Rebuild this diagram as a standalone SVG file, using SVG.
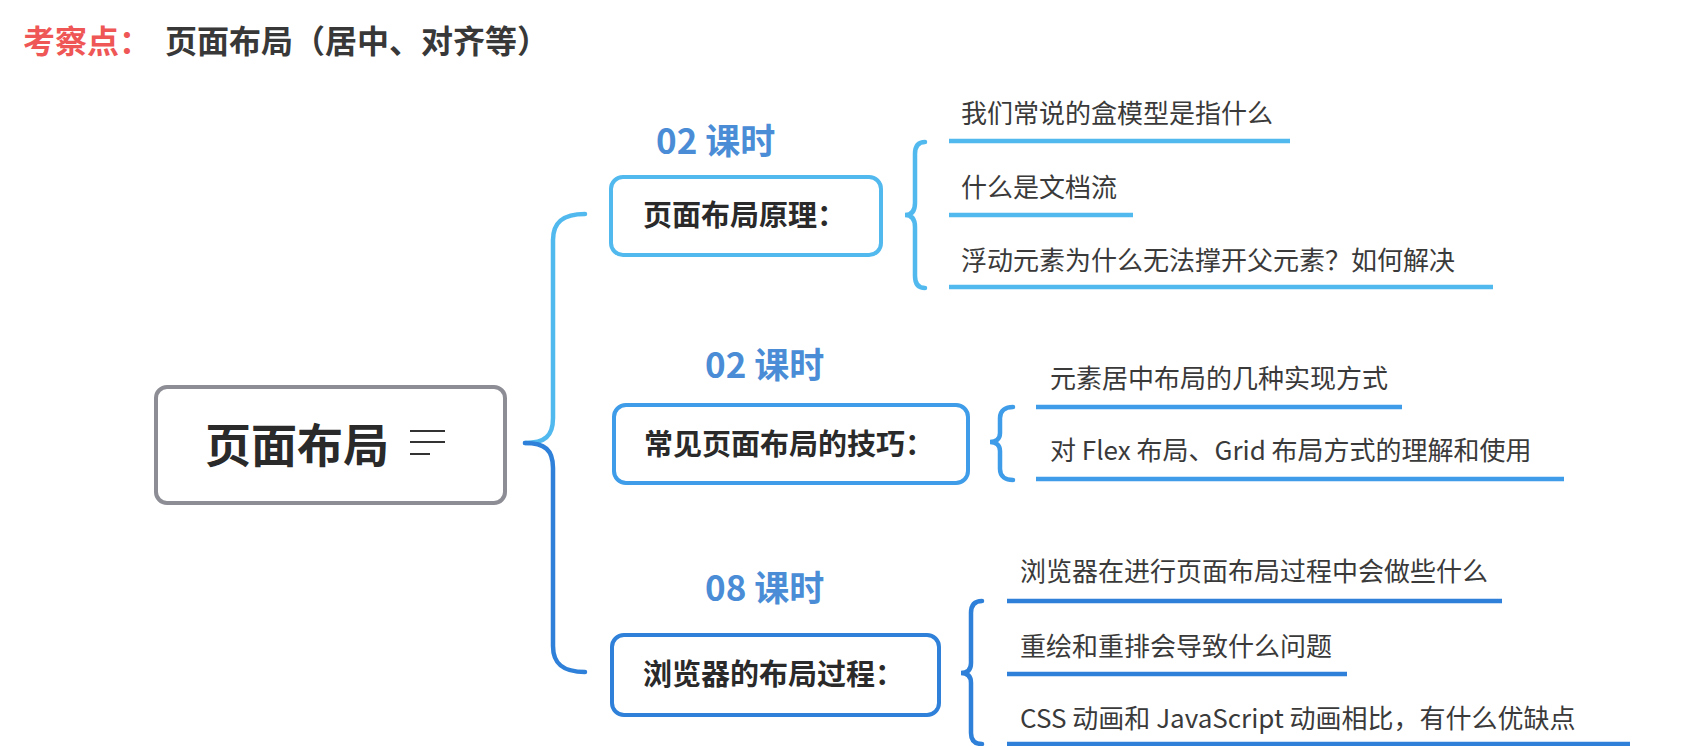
<svg xmlns="http://www.w3.org/2000/svg" width="1706" height="746" viewBox="0 0 1706 746">
  <style>
    text { font-family: "Noto Sans CJK SC", "Noto Sans", sans-serif; }
    .title-red { font-size: 32px; font-weight: bold; fill: #ef5656; }
    .title { font-size: 32px; font-weight: bold; fill: #383838; }
    .root-text { font-size: 46px; font-weight: bold; fill: #2a2a2a; }
    .box-text { font-size: 29px; font-weight: bold; fill: #2a2a2a; }
    .hours { font-size: 35px; font-weight: bold; fill: #4a8dd6; }
    .leaf { font-size: 26px; fill: #3a3a3a; }
    .box { fill: #ffffff; stroke-width: 4; }
    .c1 { stroke: #52b9ef; }
    .c2 { stroke: #3e9ce8; }
    .c3 { stroke: #2f80d9; }
    .conn { fill: none; stroke-width: 4.5; stroke-linecap: round; }
    .uline { fill: none; stroke-width: 4.5; }
    .icon { stroke: #333333; stroke-width: 2; }
  </style>
  <rect x="0" y="0" width="1706" height="746" fill="#ffffff"/>

  <g id="title">
    <text class="title-red" x="23" y="53">考察点：</text>
    <text class="title" x="165" y="53">页面布局（居中、对齐等）</text>
  </g>

  <g id="connectors">
    <path class="conn c1" d="M585,214 C563,214 553,222 553,240 L553,418 C553,436 545,443 525,443"/>
    <path class="conn c3" d="M525,443 C545,443 553,450 553,468 L553,646 C553,664 563,672 585,672"/>
    <path class="conn c1" d="M925,142 C918,142 915,146 915,154 L915,203 C915,211 912,215 905,215 C912,215 915,219 915,227 L915,276 C915,284 918,288 925,288"/>
    <path class="conn c2" d="M1013,407 C1006,407 1000,410 1000,418 L1000,433 C1000,439 996,442 990,442 C996,442 1000,445 1000,451 L1000,469 C1000,477 1006,480 1013,480"/>
    <path class="conn c3" d="M982,601 C975,601 971,605 971,613 L971,663 C971,670 967,673 961,673 C967,673 971,676 971,683 L971,733 C971,741 975,744 982,744"/>
  </g>

  <g id="root">
    <rect x="156" y="387" width="349" height="116" rx="11" fill="#ffffff" stroke="#8d8d95" stroke-width="4"/>
    <text class="root-text" x="205" y="462">页面布局</text>
    <line class="icon" x1="410" y1="431" x2="445" y2="431"/>
    <line class="icon" x1="410" y1="442" x2="445" y2="442"/>
    <line class="icon" x1="410" y1="454" x2="430" y2="454"/>
  </g>

  <g id="node-principle">
    <text class="hours" x="656" y="154">02 课时</text>
    <rect class="box c1" x="611" y="177" width="270" height="78" rx="12"/>
    <text class="box-text" x="643" y="226">页面布局原理：</text>
  </g>

  <g id="node-skills">
    <text class="hours" x="705" y="378">02 课时</text>
    <rect class="box c2" x="614" y="405" width="354" height="78" rx="12"/>
    <text class="box-text" x="644" y="455">常见页面布局的技巧：</text>
  </g>

  <g id="node-process">
    <text class="hours" x="705" y="601">08 课时</text>
    <rect class="box c3" x="612" y="635" width="327" height="80" rx="12"/>
    <text class="box-text" x="643" y="685">浏览器的布局过程：</text>
  </g>

  <g id="leaf-1-1">
    <text class="leaf" x="961" y="123">我们常说的盒模型是指什么</text>
    <line class="uline c1" x1="949" y1="141" x2="1290" y2="141"/>
  </g>
  <g id="leaf-1-2">
    <text class="leaf" x="961" y="197">什么是文档流</text>
    <line class="uline c1" x1="949" y1="215" x2="1133" y2="215"/>
  </g>
  <g id="leaf-1-3">
    <text class="leaf" x="961" y="270">浮动元素为什么无法撑开父元素？如何解决</text>
    <line class="uline c1" x1="949" y1="287" x2="1493" y2="287"/>
  </g>

  <g id="leaf-2-1">
    <text class="leaf" x="1050" y="388">元素居中布局的几种实现方式</text>
    <line class="uline c2" x1="1036" y1="407" x2="1402" y2="407"/>
  </g>
  <g id="leaf-2-2">
    <text class="leaf" x="1050" y="460">对 Flex 布局、Grid 布局方式的理解和使用</text>
    <line class="uline c2" x1="1036" y1="479" x2="1564" y2="479"/>
  </g>

  <g id="leaf-3-1">
    <text class="leaf" x="1020" y="581">浏览器在进行页面布局过程中会做些什么</text>
    <line class="uline c3" x1="1007" y1="601" x2="1502" y2="601"/>
  </g>
  <g id="leaf-3-2">
    <text class="leaf" x="1020" y="656">重绘和重排会导致什么问题</text>
    <line class="uline c3" x1="1007" y1="674" x2="1347" y2="674"/>
  </g>
  <g id="leaf-3-3">
    <text class="leaf" x="1020" y="728">CSS 动画和 JavaScript 动画相比，有什么优缺点</text>
    <line class="uline c3" x1="1007" y1="744" x2="1630" y2="744"/>
  </g>
</svg>
